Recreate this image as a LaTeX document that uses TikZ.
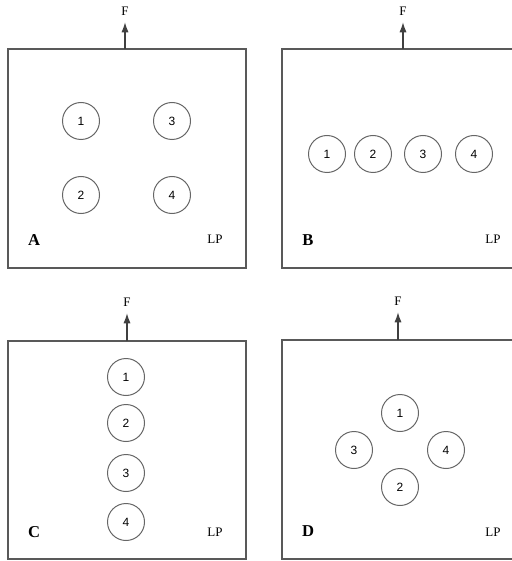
\documentclass[tikz,border=0pt]{standalone}
\usepackage{fontspec}
\setmainfont{Liberation Serif}
\setsansfont{Liberation Sans}
\usetikzlibrary{arrows.meta}

\begin{document}
\begin{tikzpicture}[x=0.5pt,y=-0.5pt]
    \tikzstyle{panel} = [draw=black!65, line width=0.6pt];
    \tikzstyle{disc} = [circle, draw=black!60, line width=0.5pt, minimum size=18.5pt, inner sep=0pt, font=\sffamily\fontsize{6}{7}\selectfont];
    \tikzstyle{lbl} = [font=\fontsize{6.5}{7}\selectfont];
    \tikzstyle{tag} = [font=\bfseries\fontsize{8.3}{9}\selectfont];
    \tikzstyle{line} = [draw=black!75, line width=0.6pt, -{Latex[length=5pt,width=3.6pt]}];
    \useasboundingbox (0,0) rectangle (512,561);
    \clip (0,0) rectangle (512,561);
    % A: square of four
    \draw[panel] (8,49) rectangle (246,268);
    \node[lbl] (fA) at (125,11) {F};
    \coordinate (oA) at (125,49);
    \node[disc] (a1) at (81,121) {1};
    \node[disc] (a3) at (172,121) {3};
    \node[disc] (a2) at (81,195) {2};
    \node[disc] (a4) at (172,195) {4};
    \node[tag] (tA) at (34,240) {A};
    \node[lbl] (lA) at (215,239) {LP};
    % B: one row
    \draw[panel] (282,49) rectangle (540,268);
    \node[lbl] (fB) at (403,11) {F};
    \coordinate (oB) at (403,49);
    \node[disc] (b1) at (327,154) {1};
    \node[disc] (b2) at (373,154) {2};
    \node[disc] (b3) at (423,154) {3};
    \node[disc] (b4) at (474,154) {4};
    \node[tag] (tB) at (308,240) {B};
    \node[lbl] (lB) at (493,239) {LP};
    % C: one column
    \draw[panel] (8,341) rectangle (246,559);
    \node[lbl] (fC) at (127,302) {F};
    \coordinate (oC) at (127,341);
    \node[disc] (c1) at (126,377) {1};
    \node[disc] (c2) at (126,423) {2};
    \node[disc] (c3) at (126,473) {3};
    \node[disc] (c4) at (126,522) {4};
    \node[tag] (tC) at (34,532) {C};
    \node[lbl] (lC) at (215,532) {LP};
    % D: diamond
    \draw[panel] (282,340) rectangle (540,559);
    \node[lbl] (fD) at (398,301) {F};
    \coordinate (oD) at (398,340);
    \node[disc] (d1) at (400,413) {1};
    \node[disc] (d3) at (354,450) {3};
    \node[disc] (d4) at (446,450) {4};
    \node[disc] (d2) at (400,487) {2};
    \node[tag] (tD) at (308,531) {D};
    \node[lbl] (lD) at (493,532) {LP};
    \tikzstyle{every path}=[line]
    \path (oA) -- (fA);
    \path (oB) -- (fB);
    \path (oC) -- (fC);
    \path (oD) -- (fD);
\end{tikzpicture}
\end{document}
